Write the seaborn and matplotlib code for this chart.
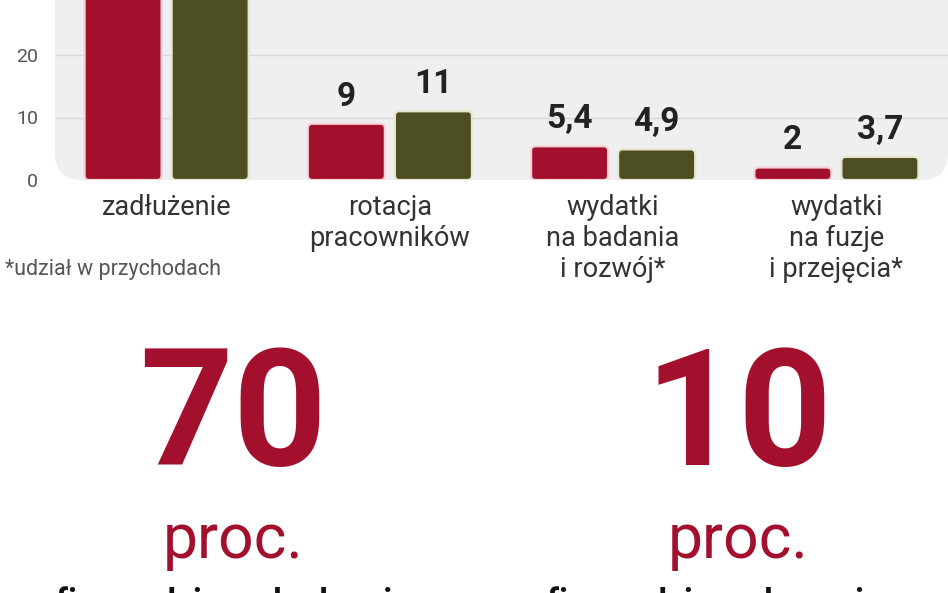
import numpy as np
import pandas as pd
import matplotlib
matplotlib.use('Agg')
import matplotlib.pyplot as plt
import seaborn as sns
from matplotlib.patches import FancyBboxPatch

categories = ['zadłużenie', 'rotacja\npracowników', 'wydatki\nna badania\ni rozwój*', 'wydatki\nna fuzje\ni przejęcia*']
series_names = ['firmy rodzinne', 'firmy nierodzinne']
values_family = [36, 9, 5.4, 2]
values_other = [38, 11, 4.9, 3.7]
value_labels_family = ['36', '9', '5,4', '2']
value_labels_other = ['38', '11', '4,9', '3,7']
yticks = [0, 10, 20, 30]
big_numbers = ['70', '10']
big_unit = 'proc.'
bottom_texts = ['firm rodzinnych planuje', 'firm rodzinnych zamierza']
footnote = '*udział w przychodach'

RED = '#a3102e'
GREEN = '#4d4e22'
W, H = 948, 593
YTOP = 28.8

df = pd.DataFrame({
    'kategoria': categories * 2,
    'seria': [series_names[0]] * 4 + [series_names[1]] * 4,
    'wartosc': values_family + values_other,
})

sns.set_style('white')
plt.rcParams['font.family'] = ['Roboto', 'DejaVu Sans']

fig = plt.figure(figsize=(W / 100, H / 100), dpi=100)
ax = fig.add_axes([55 / W, (H - 180) / H, (W - 55) / W, 180 / H])

sns.barplot(data=df, x='kategoria', y='wartosc', hue='seria',
            palette=[RED, GREEN], saturation=1, width=0.78, gap=0.115,
            ax=ax, legend=False, zorder=3)

# rounded bars with light rim
aspect = (YTOP / 180) / (4 / (W - 55))
rims = {RED: '#f4d3d9', GREEN: '#e8e6cf'}
for p in list(ax.patches):
    x0, y0 = p.get_x(), p.get_y()
    w, h = p.get_width(), p.get_height()
    fc = matplotlib.colors.to_hex(p.get_facecolor())
    rim = rims[RED] if fc == RED else rims[GREEN]
    p.remove()
    ax.add_patch(FancyBboxPatch((x0, y0), w, h,
                                boxstyle='round,pad=0,rounding_size=0.02',
                                mutation_aspect=aspect, facecolor=fc,
                                edgecolor=rim, linewidth=1.6, zorder=3))

# gray rounded panel
panel = FancyBboxPatch((0, 0), 1, 1.5, transform=ax.transAxes,
                       boxstyle='round,pad=0,rounding_size=0.03',
                       mutation_aspect=(W - 55) / 180,
                       facecolor='#efefef', edgecolor='none', zorder=0)
ax.add_patch(panel)
ax.set_facecolor('none')

for yv in yticks[1:3]:
    ax.axhline(yv, color='#d9d9d9', lw=1, zorder=1)

for i in range(len(categories)):
    for j, (vals, labs) in enumerate([(values_family, value_labels_family),
                                      (values_other, value_labels_other)]):
        xpos = i + (-0.195 if j == 0 else 0.195)
        ax.annotate(labs[i], (xpos, vals[i]), xytext=(0, 8),
                    textcoords='offset points', ha='center', va='bottom',
                    fontsize=24, fontweight='bold', color='#222222',
                    family=['Liberation Sans Narrow', 'Roboto'],
                    annotation_clip=True)

ax.set_xlim(-0.5, 3.5)
ax.set_ylim(0, YTOP)
ax.set_yticks(yticks[:3])
ax.set_yticklabels([str(t) for t in yticks[:3]], fontsize=14, color='#555555')
# the 30 label sits just above the cropped top edge
ax.text(-0.5, yticks[3], str(yticks[3]), transform=ax.transData,
        fontsize=14, color='#555555', ha='right', va='center',
        clip_on=False)
ax.texts[-1].set_x(-0.5 - 13 / 223)
ax.tick_params(axis='y', length=0, pad=12)
ax.tick_params(axis='x', length=0, pad=10)
ax.set_xticklabels(categories, fontsize=19.5, color='#333333',
                   linespacing=1.2)
ax.set_xlabel('')
ax.set_ylabel('')
for s in ax.spines.values():
    s.set_visible(False)

fig.text(5 / W, 1 - 270 / H, footnote, fontsize=15.5, color='#555555',
         va='center', ha='left')

centers = [233, 738]
for cx, num, bt in zip(centers, big_numbers, bottom_texts):
    fig.text(cx / W, 1 - 465 / H, num, fontsize=118, fontweight='bold',
             color=RED, ha='center', va='baseline')
    fig.text(cx / W, 1 - 558 / H, big_unit, fontsize=45, color=RED,
             ha='center', va='baseline',
             family=['Liberation Sans Narrow', 'Roboto'])
    fig.text(cx / W, 1 - 586 / H, bt, fontsize=24, fontweight='bold',
             color='#111111', ha='center', va='top')

fig.savefig('out.png', dpi=100, facecolor='white')
